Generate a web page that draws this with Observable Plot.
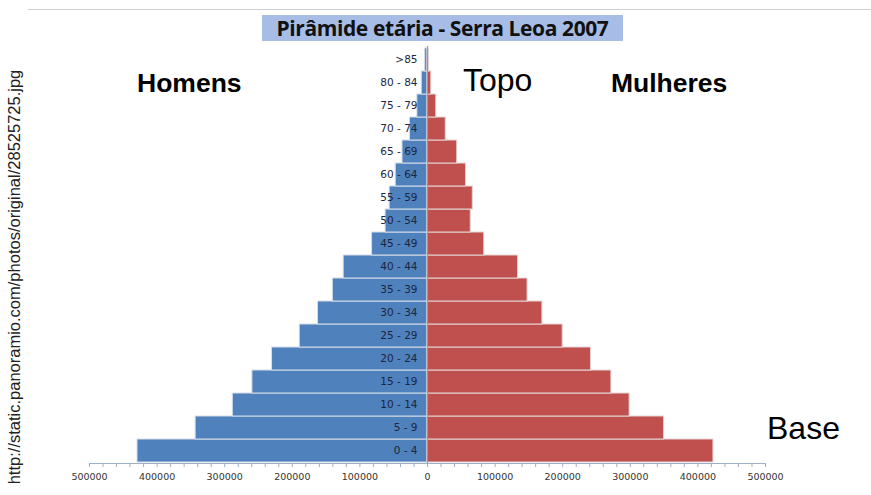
<!DOCTYPE html>
<html>
<head>
<meta charset="utf-8">
<script src="https://cdn.jsdelivr.net/npm/d3@7"></script>
<script src="https://cdn.jsdelivr.net/npm/@observablehq/plot@0.6"></script>
<style>
  html, body { margin: 0; padding: 0; background: #fff; }
  #wrap { position: relative; width: 871px; height: 495px; overflow: hidden; font-family: "Liberation Sans", Arial, sans-serif; }
  #chart { position: absolute; left: 0; top: 0; }
  .title { position: absolute; left: 262px; top: 15px; width: 361px; height: 26px; background: #a7bde6;
           font-family: "Open Sans", "DejaVu Sans", sans-serif; font-weight: 700; font-size: 21px; color: #111;
           text-align: center; line-height: 26px; letter-spacing: -0.4px; }
  .topline { position: absolute; left: 28px; top: 9px; width: 843px; height: 1px; background: #d0d0d0; }
  .lbl { position: absolute; white-space: nowrap; color: #000; line-height: 1; }
  .bold { font-weight: 700; font-size: 26.5px; }
  .big { font-size: 32px; }
  .url { position: absolute; left: 14px; top: 277px; transform: translate(-50%, -50%) rotate(-90deg);
         white-space: nowrap; font-size: 16.5px; color: #222; }
  svg text.age { letter-spacing: 0.6px; }
</style>
</head>
<body>
<div id="wrap">
  <div id="chart"></div>
  <div class="topline"></div>
  <div class="title">Pirâmide etária - Serra Leoa 2007</div>
  <div class="lbl bold" style="left:137px; top:70px;">Homens</div>
  <div class="lbl bold" style="left:611px; top:70px;">Mulheres</div>
  <div class="lbl big" style="left:463px; top:64px;">Topo</div>
  <div class="lbl big" style="left:767px; top:412px;">Base</div>
  <div class="url">http://static.panoramio.com/photos/original/28525725.jpg</div>
</div>
<script>
const ageGroups = ["0 - 4","5 - 9","10 - 14","15 - 19","20 - 24","25 - 29","30 - 34","35 - 39","40 - 44","45 - 49","50 - 54","55 - 59","60 - 64","65 - 69","70 - 74","75 - 79","80 - 84",">85"];
const homens   = [429000,343000,288000,259000,230000,189000,162000,140000,124000,82000,62000,56000,47000,37000,26000,15000,8500,3500];
const mulheres = [423000,350000,299000,272000,242000,200000,170000,148000,134000,84000,64000,67000,57000,44000,27000,13000,5600,2000];
const majorTicks = [-500000,-400000,-300000,-200000,-100000,0,100000,200000,300000,400000,500000];

const data = ageGroups.map((a, i) => ({age: a, homens: homens[i], mulheres: mulheres[i]}));
const minorTicks = d3.range(-500000, 500001, 20000);

const chart = Plot.plot({
  width: 871,
  height: 495,
  marginLeft: 89,
  marginRight: 106,
  marginTop: 46,
  marginBottom: 32,
  style: {fontFamily: "'DejaVu Sans', sans-serif", background: "transparent"},
  x: {domain: [-500000, 500000]},
  y: {domain: ageGroups.slice().reverse(), padding: 0, axis: null},
  marks: [
    Plot.barX(data, {x: d => -d.homens, y: "age", fill: "#4f81bd", stroke: "#d6dde8", strokeWidth: 1}),
    Plot.barX(data, {x: "mulheres", y: "age", fill: "#c0504d", stroke: "#e3d6d6", strokeWidth: 1}),
    Plot.ruleX([0], {stroke: "#8f9bab", strokeWidth: 1}),
    Plot.text(data, {x: 0, y: "age", text: "age", textAnchor: "end", dx: -10, fontSize: 10.5, fill: "#1c2640", className: "age"}),
    Plot.axisX(minorTicks, {anchor: "bottom", tickSize: 4, stroke: "#9eb0c6", label: null, tickFormat: () => ""}),
    Plot.axisX(majorTicks, {anchor: "bottom", tickSize: 0, tickPadding: 10, fontSize: 9.5, fill: "#333",
      tickFormat: d => String(Math.abs(d)), label: null}),
    Plot.frame({anchor: "bottom", stroke: "#9eb0c6"})
  ]
});
document.getElementById("chart").appendChild(chart);
</script>
</body>
</html>
